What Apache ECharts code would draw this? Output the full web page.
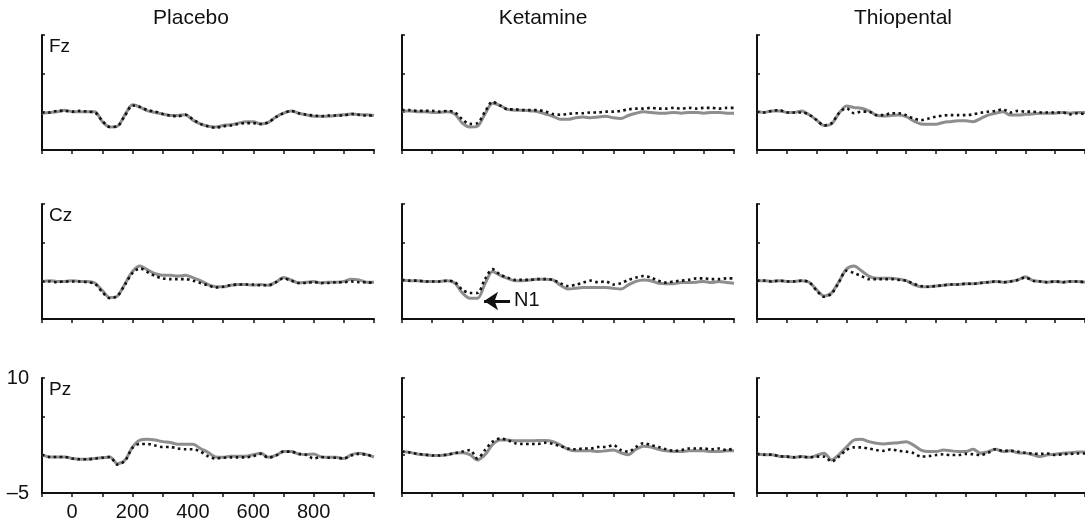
<!DOCTYPE html>
<html>
<head>
<meta charset="utf-8">
<script src="https://cdn.jsdelivr.net/npm/echarts@6/dist/echarts.min.js"></script>
<style>
  html, body { margin: 0; padding: 0; background: #fff; }
  #chart { width: 1085px; height: 522px; }
</style>
</head>
<body>
<div id="chart"></div>
<script>
// time in ms, values in microvolts
var times = [-100, -75, -50, -25, 0, 25, 50, 75, 100, 125, 150, 175, 200, 225, 250, 275, 300, 325, 350, 375,
  400, 425, 450, 475, 500, 525, 550, 575, 600, 625, 650, 675, 700, 725, 750, 775, 800, 825, 850, 875,
  900, 925, 950, 975, 1000];

var conditions = ['Placebo', 'Ketamine', 'Thiopental'];
var channels = ['Fz', 'Cz', 'Pz'];
var xTickLabels = [0, 200, 400, 600, 800];
var yTickValues = [-5, 10];
var yTickTexts = ['\u20135', '10'];

var fzPlaceboSolid = [-0.2, -0.1, 0, 0.2, 0, 0, 0, 0, -1.3, -2.0, -1.9, -0.4, 0.9, 0.6, 0.1, -0.1, -0.3, -0.5, -0.5, -0.4,
  -1.1, -1.6, -1.9, -2.0, -1.8, -1.7, -1.5, -1.3, -1.3, -1.6, -1.4, -0.7, -0.2, 0.1, -0.2, -0.4, -0.6, -0.6, -0.6, -0.5,
  -0.4, -0.3, -0.4, -0.4, -0.5];
var fzPlaceboDotted = [-0.1, -0.1, 0.1, 0.1, 0, 0.1, 0, -0.1, -1.2, -2.0, -1.9, -0.5, 0.8, 0.6, 0.2, 0, -0.3, -0.5, -0.6, -0.4,
  -1.0, -1.6, -1.9, -2.1, -1.9, -1.8, -1.6, -1.5, -1.5, -1.6, -1.4, -0.7, -0.2, 0.1, -0.2, -0.4, -0.5, -0.6, -0.5, -0.5,
  -0.5, -0.3, -0.4, -0.5, -0.5];
var fzKetamineSolid = [0.1, 0.1, 0, 0, -0.1, -0.1, 0, -0.3, -1.5, -2.0, -1.9, -0.3, 1.1, 0.8, 0.3, 0.2, 0.2, 0.1, 0, -0.3,
  -0.6, -1.0, -1.0, -0.8, -0.7, -0.8, -0.7, -0.6, -0.8, -0.9, -0.5, -0.2, 0, -0.1, -0.2, -0.2, -0.1, -0.2, -0.1, -0.1,
  -0.2, -0.1, -0.1, -0.2, -0.2];
var fzKetamineDotted = [0.2, 0.2, 0.1, 0.1, 0.1, 0, 0.1, -0.1, -1.0, -1.6, -1.5, 0, 1.3, 0.8, 0.3, 0.3, 0.2, 0.2, 0.2, 0,
  -0.3, -0.4, -0.3, -0.2, -0.2, -0.1, -0.1, 0, 0, 0.1, 0.3, 0.4, 0.4, 0.5, 0.4, 0.4, 0.5, 0.4, 0.5, 0.4,
  0.5, 0.5, 0.4, 0.5, 0.5];
var fzThiopentalSolid = [0, -0.1, 0.1, 0.1, -0.1, -0.1, 0.1, -0.4, -1.1, -1.8, -1.6, -0.2, 0.75, 0.55, 0.45, 0.1, -0.45, -0.55, -0.5, -0.45,
  -0.65, -1.2, -1.6, -1.65, -1.65, -1.4, -1.3, -1.2, -1.2, -1.3, -0.9, -0.45, -0.2, 0, -0.45, -0.45, -0.35, -0.3, -0.2, -0.2,
  -0.2, -0.1, -0.2, -0.1, -0.1];
var fzThiopentalDotted = [0, -0.1, 0.1, 0.2, -0.1, -0.1, -0.1, -0.4, -1.1, -1.8, -1.5, -0.2, 0.45, -0.2, 0, 0, -0.45, -0.45, -0.2, -0.2,
  -0.45, -0.9, -1.1, -0.9, -0.65, -0.5, -0.45, -0.45, -0.45, -0.35, -0.15, 0, 0.1, 0.3, -0.1, 0.1, 0, 0, -0.1, -0.1,
  -0.1, -0.1, -0.35, -0.2, -0.35];

var czPlaceboSolid = [-0.1, 0, -0.1, -0.1, 0, -0.1, -0.1, -0.3, -1.3, -2.2, -2.0, -0.4, 1.2, 1.9, 1.4, 0.9, 0.7, 0.7, 0.6, 0.7,
  0.4, 0, -0.5, -0.8, -0.8, -0.6, -0.5, -0.5, -0.6, -0.5, -0.6, -0.2, 0.4, 0.1, -0.3, -0.2, -0.1, -0.3, -0.2, -0.2,
  -0.1, 0.2, 0.1, -0.2, -0.2];
var czPlaceboDotted = [-0.1, -0.1, -0.2, -0.1, -0.1, -0.1, -0.2, -0.4, -1.5, -2.3, -2.0, -0.5, 1.0, 1.6, 1.1, 0.6, 0.3, 0.2, 0.2, 0.2,
  0, -0.3, -0.6, -0.9, -0.8, -0.6, -0.5, -0.5, -0.5, -0.6, -0.6, -0.2, 0.3, 0, -0.3, -0.3, -0.2, -0.3, -0.3, -0.2,
  -0.2, -0.1, -0.2, -0.2, -0.3];
var czKetamineSolid = [0.1, 0, 0, -0.1, -0.1, -0.1, 0, -0.3, -1.6, -2.3, -2.3, -0.4, 1.2, 0.7, 0.3, 0, 0, 0.1, 0.2, 0.2,
  0.1, -0.6, -1.1, -1.0, -0.9, -0.9, -0.9, -0.9, -1.0, -1.1, -0.55, -0.1, 0.1, 0, -0.35, -0.4, -0.4, -0.25, -0.25, -0.2,
  -0.1, -0.25, -0.1, -0.25, -0.35];
var czKetamineDotted = [0.1, 0, 0, -0.1, -0.1, -0.1, 0, -0.2, -1.2, -1.6, -1.6, 0.2, 1.5, 0.8, 0.4, 0.1, 0.1, 0.1, 0.2, 0.2,
  0.1, -0.35, -0.7, -0.55, -0.25, 0, -0.2, -0.1, -0.5, -0.35, 0.1, 0.4, 0.6, 0.4, 0, -0.25, -0.1, 0, 0.1, 0.3,
  0.3, 0.2, 0.2, 0.3, 0.3];
var czThiopentalSolid = [0, 0, -0.1, 0, -0.1, -0.1, 0, -0.2, -1.2, -2.0, -1.6, -0.1, 1.5, 1.9, 1.3, 0.6, 0.3, 0.3, 0.3, 0.2,
  0, -0.5, -0.8, -0.8, -0.7, -0.6, -0.5, -0.5, -0.4, -0.4, -0.3, -0.2, -0.1, -0.2, -0.1, 0.1, 0.5, 0, -0.1, -0.2,
  -0.1, -0.2, -0.1, -0.1, -0.2];
var czThiopentalDotted = [0, 0, -0.1, 0, -0.1, -0.1, 0, -0.2, -1.3, -2.1, -1.7, -0.2, 1.3, 1.0, 0.6, 0.2, 0.2, 0.2, 0.2, 0.1,
  0, -0.4, -0.7, -0.8, -0.7, -0.6, -0.5, -0.5, -0.4, -0.4, -0.3, -0.2, -0.1, -0.2, -0.1, 0.1, 0.4, 0, -0.1, -0.2,
  -0.1, -0.2, -0.1, -0.1, -0.2];

var pzPlaceboSolid = [0, -0.3, -0.3, -0.3, -0.5, -0.6, -0.6, -0.5, -0.4, -0.3, -1.2, -0.7, 1.0, 1.9, 2.0, 1.9, 1.7, 1.6, 1.35, 1.35,
  1.35, 0.8, 0.3, -0.3, -0.35, -0.2, -0.2, -0.2, 0, 0.2, -0.35, -0.1, 0.4, 0.4, 0.1, 0, 0.1, -0.3, -0.35, -0.35,
  -0.5, 0, 0.2, 0, -0.3];
var pzPlaceboDotted = [0, -0.3, -0.3, -0.3, -0.5, -0.6, -0.6, -0.5, -0.4, -0.3, -1.3, -0.8, 0.9, 1.4, 1.4, 1.2, 1.0, 1.0, 0.8, 0.7,
  0.7, 0.4, -0.2, -0.5, -0.4, -0.35, -0.35, -0.35, -0.2, 0.1, -0.4, -0.1, 0.4, 0.4, 0.1, 0, -0.5, -0.3, -0.4, -0.4,
  -0.5, -0.1, 0.1, 0, -0.3];
var pzKetamineSolid = [0.4, 0.3, 0.1, 0, -0.1, -0.1, 0, 0.2, 0.25, 0, -0.7, 0, 1.3, 1.9, 1.9, 1.8, 1.8, 1.8, 1.85, 1.85,
  1.7, 1.25, 0.7, 0.5, 0.5, 0.5, 0.4, 0.5, 0.6, 0.25, 0, 0.7, 1.1, 1.0, 0.7, 0.5, 0.4, 0.4, 0.5, 0.5,
  0.5, 0.4, 0.4, 0.5, 0.5];
var pzKetamineDotted = [0.4, 0.3, 0.1, 0, -0.1, -0.1, 0, 0.2, 0.4, 0.6, -0.5, 0.6, 1.7, 2.1, 1.9, 1.5, 1.4, 1.4, 1.4, 1.55,
  1.4, 1.1, 0.8, 0.7, 0.8, 0.8, 1.0, 1.0, 1.25, 0.6, 0.4, 1.0, 1.5, 1.25, 1.0, 0.7, 0.5, 0.6, 0.8, 0.8,
  0.8, 0.7, 0.8, 0.6, 0.8];
var pzThiopentalSolid = [0.1, 0, 0, -0.2, -0.25, -0.35, -0.25, -0.35, -0.1, 0.2, -0.7, 0, 1.0, 1.9, 2.0, 1.7, 1.5, 1.4, 1.5, 1.55,
  1.7, 1.25, 0.6, 0.4, 0.4, 0.6, 0.5, 0.4, 0.4, 0.7, 0.2, 0.4, 0.7, 0.4, 0.5, 0.25, 0.2, 0, -0.25, 0,
  0.05, 0.2, 0.25, 0.35, 0.35];
var pzThiopentalDotted = [0.1, 0, 0, -0.2, -0.25, -0.35, -0.25, -0.35, -0.25, -0.25, -0.9, -0.25, 0.6, 0.95, 0.95, 0.8, 0.6, 0.5, 0.7, 0.5,
  0.4, 0.2, -0.25, -0.2, -0.05, 0.05, -0.05, -0.05, 0.1, 0.05, -0.05, 0.25, 0.7, 0.5, 0.5, 0.4, 0.25, 0.15, 0.1, 0.15,
  -0.05, 0.05, 0.1, 0.15, 0.15];

// N1 arrow on Ketamine / Cz: from (ms, uV) to (ms, uV)
var n1From = [258, -2.65];
var n1To = [172, -2.65];

(function () {
  var ink = '#111';
  var grey = '#8e8e8e';
  var font = "'Liberation Sans', Arial, sans-serif";

  var colLeft = [42, 402, 757];
  var rowTop = [35, 204, 378];
  var panelW = 332;
  var panelH = 115;
  var titleX = [191, 543, 903];

  var solid = [
    [fzPlaceboSolid, fzKetamineSolid, fzThiopentalSolid],
    [czPlaceboSolid, czKetamineSolid, czThiopentalSolid],
    [pzPlaceboSolid, pzKetamineSolid, pzThiopentalSolid]
  ];
  var dotted = [
    [fzPlaceboDotted, fzKetamineDotted, fzThiopentalDotted],
    [czPlaceboDotted, czKetamineDotted, czThiopentalDotted],
    [pzPlaceboDotted, pzKetamineDotted, pzThiopentalDotted]
  ];

  function pairs(vals) {
    return times.map(function (t, i) { return [t, vals[i]]; });
  }

  var grids = [], xAxes = [], yAxes = [], series = [], graphics = [];

  for (var r = 0; r < 3; r++) {
    for (var c = 0; c < 3; c++) {
      var idx = r * 3 + c;
      var corner = (r === 2 && c === 0);
      grids.push({ left: colLeft[c], top: rowTop[r], width: panelW, height: panelH });
      xAxes.push({
        type: 'value', gridIndex: idx, min: -100, max: 1000, interval: 100,
        axisLine: { onZero: false, lineStyle: { color: ink, width: 2 } },
        axisTick: { show: true, length: 4, lineStyle: { color: ink, width: 1.5 } },
        splitLine: { show: false },
        axisLabel: {
          show: corner, margin: 9, color: ink, fontSize: 20, fontFamily: font,
          formatter: function (v) { return xTickLabels.indexOf(v) >= 0 ? String(v) : ''; }
        }
      });
      yAxes.push({
        type: 'value', gridIndex: idx, min: -5, max: 10, interval: 5,
        axisLine: { show: true, onZero: false, lineStyle: { color: ink, width: 2 } },
        axisTick: { show: true, inside: true, length: 3, lineStyle: { color: ink, width: 1.5 } },
        splitLine: { show: false },
        axisLabel: {
          show: corner, margin: 13, color: ink, fontSize: 20, fontFamily: font,
          formatter: function (v) {
            var k = yTickValues.indexOf(v);
            return k >= 0 ? yTickTexts[k] : '';
          }
        }
      });
      series.push({
        type: 'line', xAxisIndex: idx, yAxisIndex: idx, data: pairs(solid[r][c]),
        showSymbol: false, smooth: 0.3, silent: true, z: 2,
        lineStyle: { color: grey, width: 3 }
      });
      var dot = {
        type: 'line', xAxisIndex: idx, yAxisIndex: idx, data: pairs(dotted[r][c]),
        showSymbol: false, smooth: 0.3, silent: true, z: 3,
        lineStyle: { color: ink, width: 2.6, type: [2.6, 3.4] }
      };
      if (r === 1 && c === 1) {
        dot.markLine = {
          silent: true, animation: false,
          symbol: ['none', 'arrow'], symbolSize: 14,
          lineStyle: { color: ink, width: 3, type: 'solid' },
          label: { show: true, position: 'start', distance: 4, formatter: 'N1', color: ink, fontSize: 20, fontFamily: font },
          data: [[{ coord: n1From }, { coord: n1To }]]
        };
      }
      series.push(dot);
    }
  }

  conditions.forEach(function (name, c) {
    graphics.push({
      type: 'text', x: titleX[c], y: 18,
      style: { text: name, align: 'center', verticalAlign: 'middle', fill: ink, font: '21px ' + font }
    });
  });
  channels.forEach(function (name, r) {
    graphics.push({
      type: 'text', x: colLeft[0] + 7, y: rowTop[r] + 2,
      style: { text: name, align: 'left', verticalAlign: 'top', fill: ink, font: '19px ' + font }
    });
  });

  var chart = echarts.init(document.getElementById('chart'), null, { renderer: 'canvas' });
  chart.setOption({
    animation: false,
    backgroundColor: '#fff',
    grid: grids,
    xAxis: xAxes,
    yAxis: yAxes,
    series: series,
    graphic: graphics
  });
  window.addEventListener('resize', function () { chart.resize(); });
})();
</script>
</body>
</html>
